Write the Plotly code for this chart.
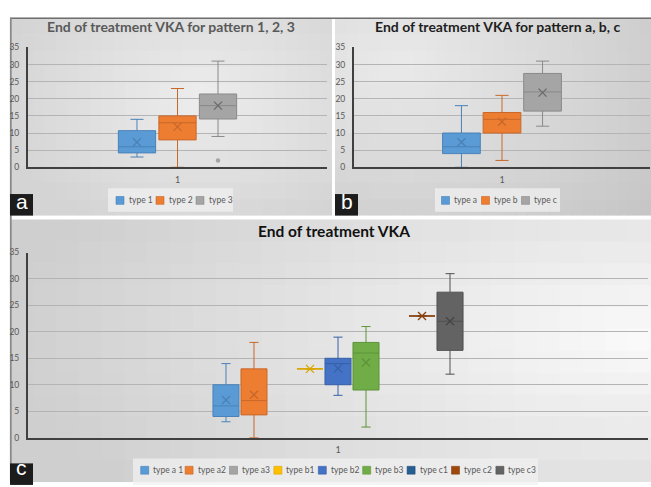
import math
import plotly.graph_objects as go

W, H = 651, 487

# ---------------- data ----------------
a_names = ["type 1", "type 2", "type 3"]
a_lower = [3, 0, 9]
a_q1 = [4.2, 8, 14.1]
a_median = [6, 13, 18]
a_q3 = [10.7, 15, 21.4]
a_upper = [14, 23, 31]
a_mean = [7.3, 11.8, 18]
a_outliers = [None, None, 2]

b_names = ["type a", "type b", "type c"]
b_lower = [0, 2, 12]
b_q1 = [4, 10, 16.4]
b_median = [6, 14, 22]
b_q3 = [10, 16, 27.4]
b_upper = [18, 21, 31]
b_mean = [7.3, 13.3, 21.8]

c_names = ["type a 1", "type a2", "type a3", "type b1", "type b2",
           "type b3", "type c1", "type c2", "type c3"]
c_lower = [3, 0, None, 13, 8, 2, None, 23, 12]
c_q1 = [4, 4.3, None, 13, 10, 9, None, 23, 16.5]
c_median = [6, 7, None, 13, 14, 16, None, 23, 22]
c_q3 = [10, 13, None, 13, 15, 18, None, 23, 27.5]
c_upper = [14, 18, None, 13, 19, 21, None, 23, 31]
c_mean = [7.1, 8.1, None, 13, 13.1, 14.2, None, 23, 22]

category_label = "1"
titles = ["End of treatment VKA for pattern 1, 2, 3",
          "End of treatment VKA for pattern a, b, c",
          "End of treatment VKA"]
panel_letters = ["a", "b", "c"]

# ---------------- styles ----------------
fills = ["#5B9BD5", "#ED7D31", "#A5A5A5", "#FFC000", "#4472C4",
         "#70AD47", "#255E91", "#9E480E", "#636363"]
lines = ["#4A82B8", "#C8682A", "#8A8A8A", "#D9A400", "#3760A8",
         "#5E9338", "#1E4E79", "#874010", "#505050"]
mean_cols = ["#4A82B8", "#C8682A", "#6a6a6a", "#D9A400", "#3760A8",
             "#5E9338", "#1E4E79", "#874010", "#454545"]
FONT = "Lato"
TXT = "#595959"


def px(x):
    return x / W


def py(y):
    return 1 - y / H


shapes = []
annotations = []


def radial_bg(x0, y0, x1, y1, cx, cy, light, dark, reach, ys=1.0, nx=28, ny=12):
    for i in range(nx):
        for j in range(ny):
            xa = x0 + (x1 - x0) * i / nx
            xb = x0 + (x1 - x0) * (i + 1) / nx
            ya = y0 + (y1 - y0) * j / ny
            yb = y0 + (y1 - y0) * (j + 1) / ny
            mx, my = (xa + xb) / 2, (ya + yb) / 2
            d = min(1.0, math.hypot(mx - cx, (my - cy) * ys) / reach)
            g = round(light + (dark - light) * d)
            shapes.append(dict(type="rect", xref="paper", yref="paper",
                               x0=px(xa), x1=px(min(x1, xb + 0.7)),
                               y0=py(min(y1, yb + 0.7)), y1=py(ya),
                               fillcolor=f"rgb({g},{g},{g})",
                               line=dict(width=0), layer="below"))


radial_bg(10, 13, 332, 215, 200, 95, 237, 212, 210, ys=1.5)
radial_bg(335, 13, 651, 215, 400, 60, 234, 198, 330, ys=1.5)
radial_bg(10, 219, 651, 487, 650, 340, 250, 207, 640, ys=2.5)

# borders
shapes.append(dict(type="line", xref="paper", yref="paper", x0=px(10), x1=px(651),
                   y0=py(13.5), y1=py(13.5), line=dict(color="#6e6e6e", width=1.5), layer="below"))
shapes.append(dict(type="line", xref="paper", yref="paper", x0=px(10.8), x1=px(10.8),
                   y0=py(13), y1=py(487), line=dict(color="#8a8a8a", width=1.8), layer="below"))

fig = go.Figure()


def add_panel(names, lower, q1, med, q3, upper, mean, xa, ya, color_idx, width, outliers=None):
    n = len(names)
    for i in range(n):
        pos = i - (n - 1) / 2
        ci = color_idx[i]
        if q1[i] is None:
            continue
        fig.add_trace(go.Box(
            x=[pos], q1=[q1[i]], median=[med[i]], q3=[q3[i]],
            lowerfence=[lower[i]], upperfence=[upper[i]],
            width=width, whiskerwidth=0.35, boxpoints=False,
            fillcolor=fills[ci], line=dict(color=lines[ci], width=1),
            xaxis=xa, yaxis=ya, showlegend=False, hoverinfo="skip"))
        fig.add_trace(go.Scatter(
            x=[pos], y=[mean[i]], mode="markers",
            marker=dict(symbol="x-thin", size=8, line=dict(width=1.3, color=mean_cols[ci])),
            xaxis=xa, yaxis=ya, showlegend=False, hoverinfo="skip"))
        if outliers is not None and outliers[i] is not None:
            fig.add_trace(go.Scatter(
                x=[pos], y=[outliers[i]], mode="markers",
                marker=dict(symbol="circle", size=4.5, color=fills[ci]),
                xaxis=xa, yaxis=ya, showlegend=False, hoverinfo="skip"))


add_panel(a_names, a_lower, a_q1, a_median, a_q3, a_upper, a_mean, "x", "y", [0, 1, 2], 0.92, a_outliers)
add_panel(b_names, b_lower, b_q1, b_median, b_q3, b_upper, b_mean, "x2", "y2", [0, 1, 2], 0.93)
add_panel(c_names, c_lower, c_q1, c_median, c_q3, c_upper, c_mean, "x3", "y3", list(range(9)), 0.93)


def legend(names, color_idx, box, sw_x0, step, yc):
    bx0, by0, bx1, by1 = box
    shapes.append(dict(type="rect", xref="paper", yref="paper", x0=px(bx0), x1=px(bx1),
                       y0=py(by1), y1=py(by0), fillcolor="rgba(240,240,240,0.75)",
                       line=dict(width=0), layer="below"))
    for i, nm in enumerate(names):
        sx = sw_x0 + i * step
        ci = color_idx[i]
        shapes.append(dict(type="rect", xref="paper", yref="paper", x0=px(sx), x1=px(sx + 8),
                           y0=py(yc + 4), y1=py(yc - 4), fillcolor=fills[ci],
                           line=dict(width=0.6, color=lines[ci]), layer="above"))
        annotations.append(dict(x=px(sx + 10.5), y=py(yc), xref="paper", yref="paper",
                                text=nm, showarrow=False, xanchor="left", yanchor="middle",
                                font=dict(family=FONT, size=8.5, color=TXT)))


legend(a_names, [0, 1, 2], (108, 187, 233, 211), 116, 40, 199.5)
legend(b_names, [0, 1, 2], (435, 187, 560, 211), 441.5, 40, 199.5)
legend(c_names, list(range(9)), (133, 463, 538, 490), 140.7, 44.4, 475)

# titles
annotations.append(dict(x=px(171), y=py(22), xref="paper", yref="paper", text="<b>" + titles[0] + "</b>",
                        showarrow=False, xanchor="center", yanchor="middle",
                        font=dict(family=FONT, size=14, color=TXT)))
annotations.append(dict(x=px(497), y=py(22), xref="paper", yref="paper", text="<b>" + titles[1] + "</b>",
                        showarrow=False, xanchor="center", yanchor="middle",
                        font=dict(family=FONT, size=14, color="#1e1e1e")))
annotations.append(dict(x=px(334), y=py(231), xref="paper", yref="paper", text="<b>" + titles[2] + "</b>",
                        showarrow=False, xanchor="center", yanchor="middle",
                        font=dict(family=FONT, size=15.5, color="#111111")))

# panel letters
for (lx0, ly0, lx1, ly1), letter in zip([(10, 193, 33, 215), (335, 193, 358, 215), (10, 468, 33, 490)],
                                        panel_letters):
    shapes.append(dict(type="rect", xref="paper", yref="paper", x0=px(lx0), x1=px(lx1),
                       y0=py(ly1), y1=py(ly0), fillcolor="#1c1c1c", line=dict(width=0), layer="above"))
    annotations.append(dict(x=px((lx0 + lx1) / 2), y=py(min(ly1, 487) - 1), xref="paper", yref="paper",
                            text=letter, showarrow=False, xanchor="center", yanchor="bottom",
                            font=dict(family="Liberation Sans", size=21, color="white")))

xcommon = dict(tickvals=[0], ticktext=[category_label], showgrid=False, zeroline=False,
               showline=True, linecolor="#404040", linewidth=2, ticks="",
               tickfont=dict(family=FONT, size=9, color=TXT), ticklabelstandoff=3, fixedrange=True)
ycommon = dict(range=[0, 35], dtick=5, showgrid=True, gridcolor="#b4b4b4", gridwidth=1.4,
               zeroline=False, showline=True, linecolor="#404040", linewidth=2, ticks="",
               tickfont=dict(family=FONT, size=8.5, color=TXT), ticklabelstandoff=5, fixedrange=True)

fig.update_layout(
    width=W, height=H, margin=dict(l=0, r=0, t=0, b=0),
    paper_bgcolor="white", plot_bgcolor="rgba(0,0,0,0)",
    showlegend=False, hovermode=False,
    xaxis=dict(domain=[px(28), px(327)], range=[-3.69, 3.69], anchor="y", **xcommon),
    yaxis=dict(domain=[py(165.7), py(43.3)], anchor="x", **ycommon),
    xaxis2=dict(domain=[px(354), px(650)], range=[-3.65, 3.65], anchor="y2", **xcommon),
    yaxis2=dict(domain=[py(165.7), py(43.3)], anchor="x2", **ycommon),
    xaxis3=dict(domain=[px(28), px(648)], range=[-11.07, 11.07], anchor="y3", **xcommon),
    yaxis3=dict(domain=[py(441.7), py(252.7)], anchor="x3", **ycommon),
    shapes=shapes, annotations=annotations,
)

fig.write_html("out.html", config={"displayModeBar": False},
               post_script="document.body.style.margin='0';document.body.style.overflow='hidden';")
